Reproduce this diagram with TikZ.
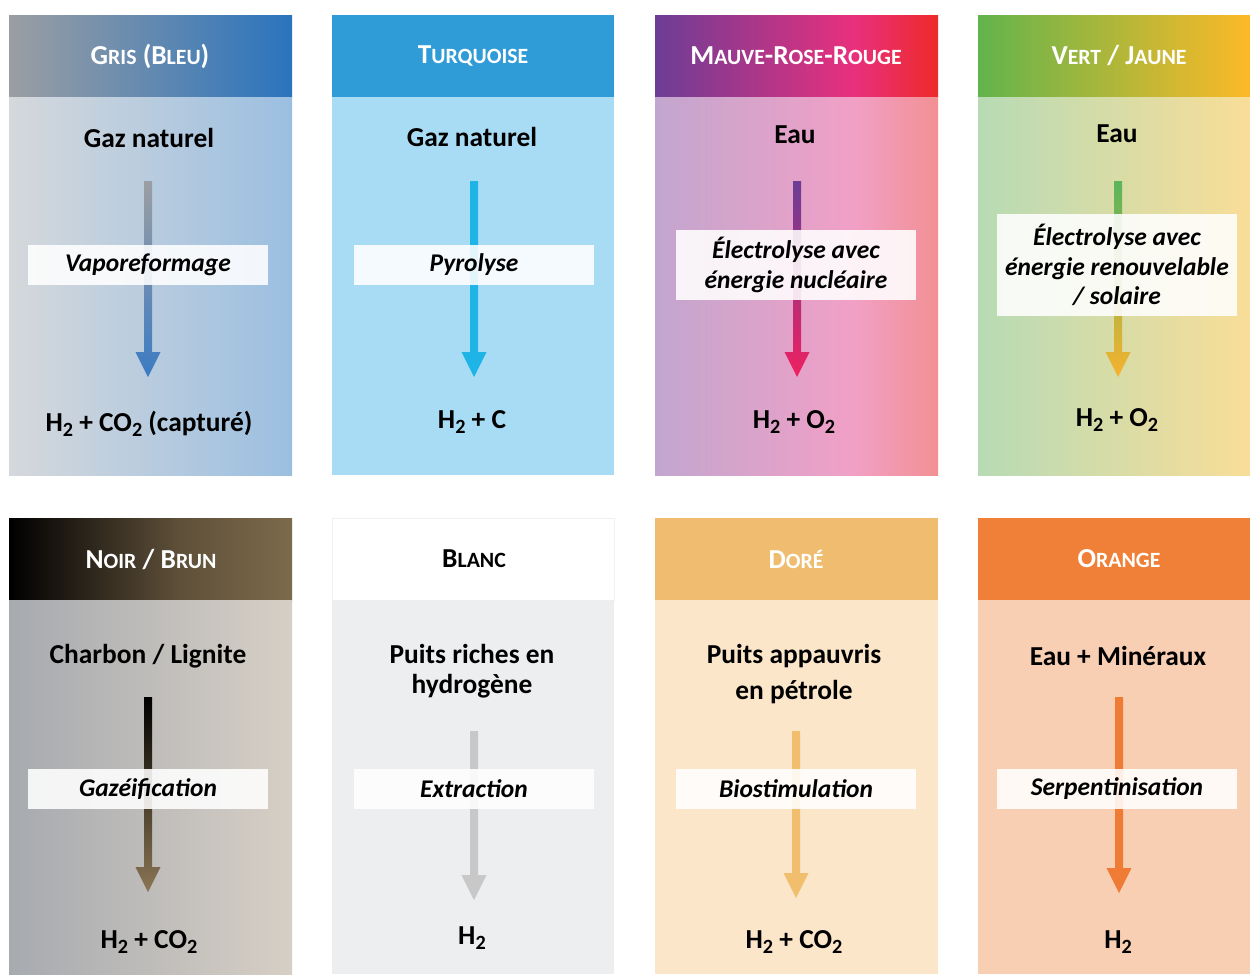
\documentclass[tikz,border=0pt]{standalone}
\usepackage{fontspec}
\setmainfont{Carlito}
\usetikzlibrary{calc}

% fonts
\newcommand\hdrfont{\fontsize{15.6}{17}\bfseries\selectfont}
\newcommand\scx{\fontsize{12.4}{14}\selectfont}
\newcommand\txtfont{\fontsize{15.6}{17}\bfseries\selectfont}
\newcommand\procfont{\fontsize{14.5}{17}\bfseries\itshape\selectfont}
\newcommand\chsub[1]{\raisebox{-0.4ex}{\fontsize{11.5}{12}\selectfont #1}}

% colours
\definecolor{grisA}{HTML}{9B9EA3}
\definecolor{grisB}{HTML}{2A74BD}
\definecolor{grisC}{HTML}{D5D8DC}
\definecolor{grisD}{HTML}{9BBFE1}
\definecolor{grisE}{HTML}{3B7BC3}
\definecolor{turqA}{HTML}{2F9BD7}
\definecolor{turqB}{HTML}{A8DCF5}
\definecolor{turqC}{HTML}{1EB4E6}
\definecolor{mrrA}{HTML}{6C3D96}
\definecolor{mrrB}{HTML}{E8307D}
\definecolor{mrrC}{HTML}{EE2A2A}
\definecolor{mrrD}{HTML}{C2A6CF}
\definecolor{mrrE}{HTML}{F1A0C6}
\definecolor{mrrF}{HTML}{F29093}
\definecolor{mrrG}{HTML}{EE2160}
\definecolor{vertA}{HTML}{62B44C}
\definecolor{vertB}{HTML}{FDB927}
\definecolor{vertC}{HTML}{B7DBB5}
\definecolor{vertD}{HTML}{F9DD98}
\definecolor{vertE}{HTML}{5AB55C}
\definecolor{vertF}{HTML}{F6B22E}
\definecolor{noirA}{HTML}{000000}
\definecolor{noirB}{HTML}{7D6A4C}
\definecolor{noirC}{HTML}{A7AAAF}
\definecolor{noirD}{HTML}{D6CFC5}
\definecolor{noirE}{HTML}{8B7655}
\definecolor{blancA}{HTML}{EDEEF0}
\definecolor{blancB}{HTML}{C8C8C8}
\definecolor{doreA}{HTML}{EFBC70}
\definecolor{doreB}{HTML}{FBE6CA}
\definecolor{doreC}{HTML}{F0BE6C}
\definecolor{orangeA}{HTML}{F08038}
\definecolor{orangeB}{HTML}{F9CFB4}
\definecolor{orangeC}{HTML}{EF7B35}

\pgfdeclarehorizontalshading{mrrhead}{100bp}{color(0bp)=(mrrA); color(25bp)=(mrrA); color(60bp)=(mrrB); color(75bp)=(mrrC); color(100bp)=(mrrC)}
\pgfdeclarehorizontalshading{mrrbody}{100bp}{color(0bp)=(mrrD); color(25bp)=(mrrD); color(60bp)=(mrrE); color(75bp)=(mrrF); color(100bp)=(mrrF)}
\pgfdeclarehorizontalshading{noirhead}{100bp}{color(0bp)=(noirA); color(25bp)=(noirA); color(55bp)=(noirB!75!black); color(75bp)=(noirB); color(100bp)=(noirB)}

% arrow: start, tip, top colour, bottom colour
\newcommand\flowarrow[4]{%
  \shade[top color=#3, bottom color=#4]
    ($(#1)+(-4,0)$) -- ($(#1)+(4,0)$) -- ($(#2)+(4,-25)$) -- ($(#2)+(12.5,-25)$)
    -- (#2) -- ($(#2)+(-12.5,-25)$) -- ($(#2)+(-4,-25)$) -- cycle;}

\begin{document}
\begin{tikzpicture}[
	x=0.02cm, y=-0.02cm,
	hdr/.style={font=\hdrfont, text=white},
	src/.style={font=\txtfont, align=center},
	proc/.style={fill=white, fill opacity=0.88, text opacity=1, inner sep=0pt,
		minimum width=4.82cm, minimum height=0.8cm, font=\procfont, align=center},
	prod/.style={font=\txtfont}
]
\useasboundingbox (0,0) rectangle (1250,974);
\fill[white] (0,0) rectangle (1250,974);

% Panels, first row
\shade[left color=grisA, right color=grisB] (9,15) rectangle (292,97);
\shade[left color=grisC, right color=grisD] (9,97) rectangle (292,475);
\fill[turqA] (332,15) rectangle (614,97);
\fill[turqB] (332,97) rectangle (614,475);
\shade[shading=mrrhead] (655,15) rectangle (938,97);
\shade[shading=mrrbody] (655,97) rectangle (938,475);
\shade[left color=vertA, right color=vertB] (978,15) rectangle (1250,97);
\shade[left color=vertC, right color=vertD] (978,97) rectangle (1250,475);

% Panels, second row
\shade[shading=noirhead] (9,518) rectangle (292,600);
\shade[left color=noirC, right color=noirD] (9,600) rectangle (292,974);
\draw[black!6, fill=white] (332,518) rectangle (614,600);
\fill[blancA] (332,600) rectangle (614,974);
\fill[doreA] (655,518) rectangle (938,600);
\fill[doreB] (655,600) rectangle (938,974);
\fill[orangeA] (978,518) rectangle (1250,600);
\fill[orangeB] (978,600) rectangle (1250,974);

% Headers
\node[hdr] (h1) at (150,56) {G{\scx RIS} (B{\scx LEU})};
\node[hdr] (h2) at (473,56) {T{\scx URQUOISE}};
\node[hdr] (h3) at (796,56) {M{\scx AUVE}-R{\scx OSE}-R{\scx OUGE}};
\node[hdr] (h4) at (1119,56) {V{\scx ERT} / J{\scx AUNE}};
\node[hdr] (h5) at (151,559) {N{\scx OIR} / B{\scx RUN}};
\node[hdr, text=black] (h6) at (474,559) {B{\scx LANC}};
\node[hdr] (h7) at (796,559) {D{\scx ORÉ}};
\node[hdr] (h8) at (1119,559) {O{\scx RANGE}};

% Sources
\node[src] (s1) at (149,138) {Gaz naturel};
\node[src] (s2) at (472,137) {Gaz naturel};
\node[src] (s3) at (795,135) {Eau};
\node[src] (s4) at (1117,134) {Eau};
\node[src] (s5) at (148,656) {Charbon / Lignite};
\node[src] (s6) at (472,671) {Puits riches en\\hydrogène};
\node[src] (s7) at (794,674) {Puits appauvris\\[3pt]en pétrole};
\node[src] (s8) at (1118,656) {Eau + Minéraux};

% Arrow ends
\coordinate (f1a) at (148,181); \coordinate (f1b) at (148,377);
\coordinate (f2a) at (474,181); \coordinate (f2b) at (474,377);
\coordinate (f3a) at (797,181); \coordinate (f3b) at (797,377);
\coordinate (f4a) at (1118,181); \coordinate (f4b) at (1118,377);
\coordinate (f5a) at (148,697); \coordinate (f5b) at (148,892);
\coordinate (f6a) at (474,731); \coordinate (f6b) at (474,900);
\coordinate (f7a) at (796,731); \coordinate (f7b) at (796,898);
\coordinate (f8a) at (1119,697); \coordinate (f8b) at (1119,893);

% Arrows
\flowarrow{f1a}{f1b}{grisA}{grisE}
\flowarrow{f2a}{f2b}{turqC}{turqC}
\flowarrow{f3a}{f3b}{mrrA}{mrrG}
\flowarrow{f4a}{f4b}{vertE}{vertF}
\flowarrow{f5a}{f5b}{noirA}{noirE}
\flowarrow{f6a}{f6b}{blancB}{blancB}
\flowarrow{f7a}{f7b}{doreC}{doreC}
\flowarrow{f8a}{f8b}{orangeC}{orangeC}

% Processes
\node[proc] (p1) at (148,265) {Vaporeformage};
\node[proc] (p2) at (474,265) {Pyrolyse};
\node[proc, minimum height=1.4cm] (p3) at (796,265) {Électrolyse avec\\énergie nucléaire};
\node[proc, minimum height=2.04cm] (p4) at (1117,265) {Électrolyse avec\\énergie renouvelable\\/ solaire};
\node[proc] (p5) at (148,789) {Gazéification};
\node[proc] (p6) at (474,789) {Extraction};
\node[proc] (p7) at (796,789) {Biostimulation};
\node[proc] (p8) at (1117,789) {Serpentinisation};

% Products
\node[prod] (o1) at (149,424) {H\chsub{2} + CO\chsub{2} (capturé)};
\node[prod] (o2) at (472,422) {H\chsub{2} + C};
\node[prod] (o3) at (794,422) {H\chsub{2} + O\chsub{2}};
\node[prod] (o4) at (1117,420) {H\chsub{2} + O\chsub{2}};
\node[prod] (o5) at (149,942) {H\chsub{2} + CO\chsub{2}};
\node[prod] (o6) at (472,938) {H\chsub{2}};
\node[prod] (o7) at (794,942) {H\chsub{2} + CO\chsub{2}};
\node[prod] (o8) at (1118,942) {H\chsub{2}};
\end{tikzpicture}
\end{document}
